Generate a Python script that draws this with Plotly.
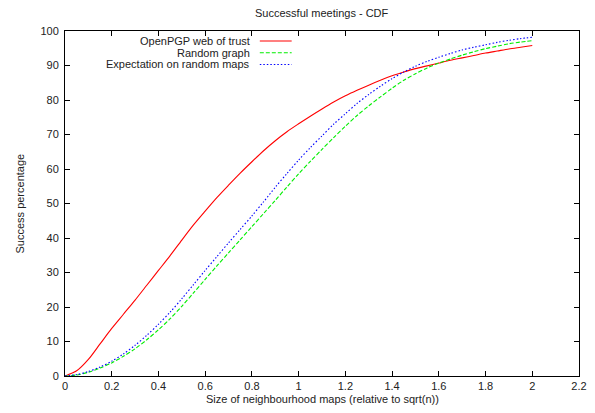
import plotly.graph_objects as go

x_vals = [round(i * 0.05, 2) for i in range(41)]

openpgp = [0, 1.5, 4.8, 9.3, 13.8, 17.9, 22.0, 26.3, 30.6, 34.9,
           39.4, 43.8, 47.8, 51.7, 55.3, 58.8, 62.1, 65.3, 68.2, 70.8,
           73.1, 75.3, 77.4, 79.4, 81.2, 82.8, 84.3, 85.7, 87.0, 88.1,
           89.1, 89.9, 90.7, 91.5, 92.2, 92.9, 93.6, 94.2, 94.8, 95.3, 95.8]

random_graph = [0, 0.3, 1.1, 2.3, 3.8, 5.7, 7.9, 10.5, 13.4, 16.6,
                20.2, 24.1, 28.0, 31.9, 35.7, 39.5, 43.3, 47.1, 50.9, 54.8,
                58.6, 62.2, 65.7, 69.1, 72.4, 75.5, 78.3, 80.9, 83.4, 85.7,
                87.6, 89.3, 90.7, 91.9, 93.0, 94.0, 94.9, 95.6, 96.3, 96.8, 97.2]

expectation = [0, 0.4, 1.3, 2.6, 4.3, 6.4, 8.9, 11.8, 15.0, 18.5,
               22.4, 26.5, 30.6, 34.6, 38.6, 42.5, 46.4, 50.5, 54.7, 58.7,
               62.6, 66.2, 69.6, 73.0, 76.0, 79.0, 81.6, 84.0, 86.2, 88.1,
               89.8, 91.2, 92.4, 93.5, 94.5, 95.3, 96.0, 96.7, 97.3, 97.8, 98.2]

series_names = ["OpenPGP web of trust", "Random graph", "Expectation on random maps"]
series_colors = ["#ff0000", "#00ee00", "#0000ff"]
series_dash = ["solid", "4px,2px", "1.5px,2px"]

x_ticks = [0, 0.2, 0.4, 0.6, 0.8, 1, 1.2, 1.4, 1.6, 1.8, 2, 2.2]
x_tick_text = ["0", "0.2", "0.4", "0.6", "0.8", "1", "1.2", "1.4", "1.6", "1.8", "2", "2.2"]
y_ticks = list(range(0, 101, 10))

FONT = "Liberation Sans, Arial, Helvetica, sans-serif"
TXT = "#222222"

fig = go.Figure()
for name, ys, col, dash in zip(series_names, [openpgp, random_graph, expectation],
                               series_colors, series_dash):
    fig.add_trace(go.Scatter(x=x_vals, y=ys, mode="lines", name=name,
                             line=dict(color=col, width=1.1, dash=dash,
                                       shape="spline", smoothing=0.8),
                             showlegend=False))

# gnuplot-style legend: right-aligned text, sample line to the right
leg_y = [0.971, 0.937, 0.903]
for name, col, dash, yy in zip(series_names, series_colors, series_dash, leg_y):
    fig.add_annotation(x=0.364, y=yy, xref="paper", yref="paper", text=name,
                       showarrow=False, xanchor="right", yanchor="middle",
                       font=dict(family=FONT, size=11, color=TXT))
    fig.add_shape(type="line", xref="paper", yref="paper",
                  x0=0.379, x1=0.441, y0=yy, y1=yy,
                  line=dict(color=col, width=1.1, dash=dash))

fig.add_annotation(x=0.5, y=1, xref="paper", yref="paper", yshift=18,
                   text="Successful meetings - CDF", showarrow=False,
                   xanchor="center", yanchor="middle",
                   font=dict(family=FONT, size=11, color=TXT))
fig.add_annotation(x=0.5, y=0, xref="paper", yref="paper", yshift=-23,
                   text="Size of neighbourhood maps (relative to sqrt(n))",
                   showarrow=False, xanchor="center", yanchor="middle",
                   font=dict(family=FONT, size=11, color=TXT))
fig.add_annotation(x=0, y=0.5, xref="paper", yref="paper", xshift=-46,
                   text="Success percentage", textangle=-90, showarrow=False,
                   xanchor="center", yanchor="middle",
                   font=dict(family=FONT, size=11, color=TXT))

axis_common = dict(showgrid=False, zeroline=False, showline=True, mirror="ticks",
                   linecolor="#000000", linewidth=1, ticks="inside", ticklen=5,
                   tickcolor="#000000", tickwidth=1, automargin=False,
                   tickfont=dict(family=FONT, size=11, color=TXT))

fig.update_xaxes(range=[0, 2.2], tickvals=x_ticks, ticktext=x_tick_text, **axis_common)
fig.update_yaxes(range=[0, 100], tickvals=y_ticks, ticklabelstandoff=3, **axis_common)

# page body has an 8px margin all round, so the figure is 16px smaller than the window
fig.update_layout(width=579, height=397,
                  margin=dict(l=57, r=8, t=23, b=29),
                  paper_bgcolor="white", plot_bgcolor="white",
                  font=dict(family=FONT, size=11, color=TXT))

fig.write_html("out.html")
